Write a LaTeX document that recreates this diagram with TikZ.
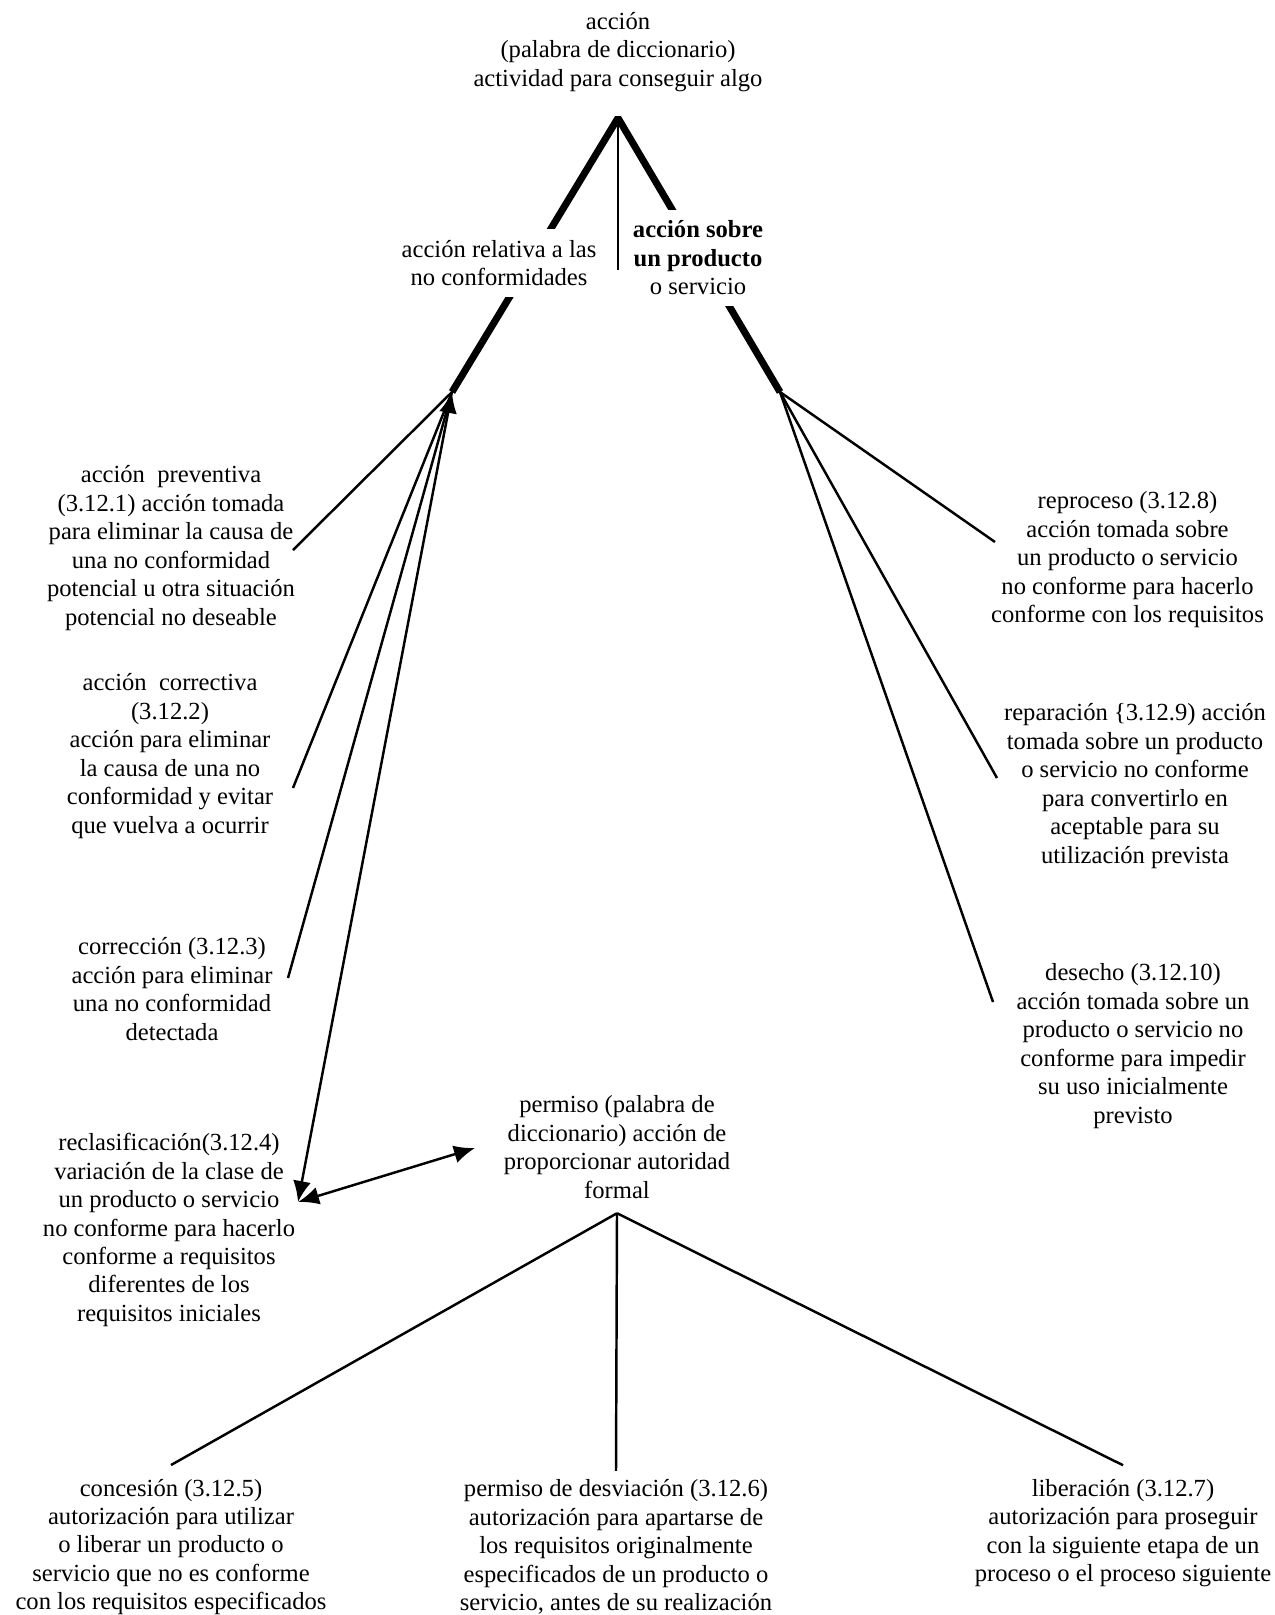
\documentclass[tikz,border=0pt]{standalone}
\usepackage{fontspec}
\setmainfont{Liberation Serif}
\usetikzlibrary{arrows.meta}

\begin{document}
\begin{tikzpicture}[
        term/.style = {align = center, font = \fontsize{14}{16.2}\selectfont, inner sep = 2pt},
        cover/.style = {term, fill = white, inner sep = 0.22cm},
        link/.style = {line width = 1.4pt},
        branch/.style = {line width = 4pt, line join = bevel},
        >={Latex[length = 0.42cm, width = 0.36cm]}
    ]
        \useasboundingbox (0, 0) rectangle (25.48, -32.3);
        \coordinate (apex) at (12.36, -2.36);
        \coordinate (vend) at (12.36, -5.40);
        \coordinate (lfan) at (9.04, -7.84);
        \coordinate (rfan) at (15.60, -7.84);
        \draw[link] (apex) -- (vend);
        \draw[branch] (lfan) -- (apex) -- (rfan);

        \node[term] at (12.36, -1.04) (accion)
            {acción\\(palabra de diccionario)\\actividad para conseguir algo};
        \node[cover] at (9.98, -5.26) (relativa)
            {acción relativa a las\\no conformidades};
        \node[cover] at (13.96, -5.16) (sobre)
            {\textbf{acción sobre}\\\textbf{un producto}\\o servicio};

        % lado izquierdo
        \node[term] at (3.42, -10.96) (preventiva)
            {acción\ \ preventiva\\(3.12.1) acción tomada\\para eliminar la causa de\\una no conformidad\\potencial u otra situación\\potencial no deseable};
        \node[term] at (3.40, -15.12) (correctiva)
            {acción\ \ correctiva\\(3.12.2)\\acción para eliminar\\la causa de una no\\conformidad y evitar\\que vuelva a ocurrir};
        \node[term] at (3.44, -19.78) (correccion)
            {corrección (3.12.3)\\acción para eliminar\\una no conformidad\\detectada};
        \node[term] at (3.38, -24.60) (reclasificacion)
            {reclasificación(3.12.4)\\variación de la clase de\\un producto o servicio\\no conforme para hacerlo\\conforme a requisitos\\diferentes de los\\requisitos iniciales};
        \coordinate (preventiva_end) at (5.86, -11.00);
        \coordinate (correctiva_end) at (5.86, -15.76);
        \coordinate (correccion_end) at (5.76, -19.56);
        \coordinate (reclasificacion_end) at (5.96, -24.04);
        \draw[link] (lfan) -- (preventiva_end);
        \draw[link] (lfan) -- (correctiva_end);
        \draw[link] (lfan) -- (correccion_end);
        \draw[link, <->] (lfan) -- (reclasificacion_end);

        % lado derecho
        \node[term] at (22.55, -11.20) (reproceso)
            {reproceso (3.12.8)\\acción tomada sobre\\un producto o servicio\\no conforme para hacerlo\\conforme con los requisitos};
        \node[term] at (22.70, -15.72) (reparacion)
            {reparación \{3.12.9) acción\\tomada sobre un producto\\o servicio no conforme\\para convertirlo en\\aceptable para su\\utilización prevista};
        \node[term] at (22.66, -20.92) (desecho)
            {desecho (3.12.10)\\acción tomada sobre un\\producto o servicio no\\conforme para impedir\\su uso inicialmente\\previsto};
        \coordinate (reproceso_end) at (19.90, -10.84);
        \coordinate (reparacion_end) at (19.94, -15.56);
        \coordinate (desecho_end) at (19.86, -20.04);
        \draw[link] (rfan) -- (reproceso_end);
        \draw[link] (rfan) -- (reparacion_end);
        \draw[link] (rfan) -- (desecho_end);

        % permiso
        \node[term] at (12.34, -22.94) (permiso)
            {permiso (palabra de\\diccionario) acción de\\proporcionar autoridad\\formal};
        \coordinate (permiso_end) at (9.50, -22.96);
        \draw[link, <->] (reclasificacion_end) -- (permiso_end);
        \node[term] at (3.42, -30.94) (concesion)
            {concesión (3.12.5)\\autorización para utilizar\\o liberar un producto o\\servicio que no es conforme\\con los requisitos especificados};
        \node[term] at (12.32, -30.94) (desviacion)
            {permiso de desviación (3.12.6)\\autorización para apartarse de\\los requisitos originalmente\\especificados de un producto o\\servicio, antes de su realización};
        \node[term] at (22.46, -30.66) (liberacion)
            {liberación (3.12.7)\\autorización para proseguir\\con la siguiente etapa de un\\proceso o el proceso siguiente};
        \coordinate (pfan) at ([yshift = -0.22cm] permiso.south);
        \draw[link] (pfan) -- ([yshift = 0.2cm] concesion.north);
        \draw[link] (pfan) -- ([yshift = 0.1cm] desviacion.north);
        \draw[link] (pfan) -- ([yshift = 0.2cm] liberacion.north);
    \end{tikzpicture}
\end{document}
